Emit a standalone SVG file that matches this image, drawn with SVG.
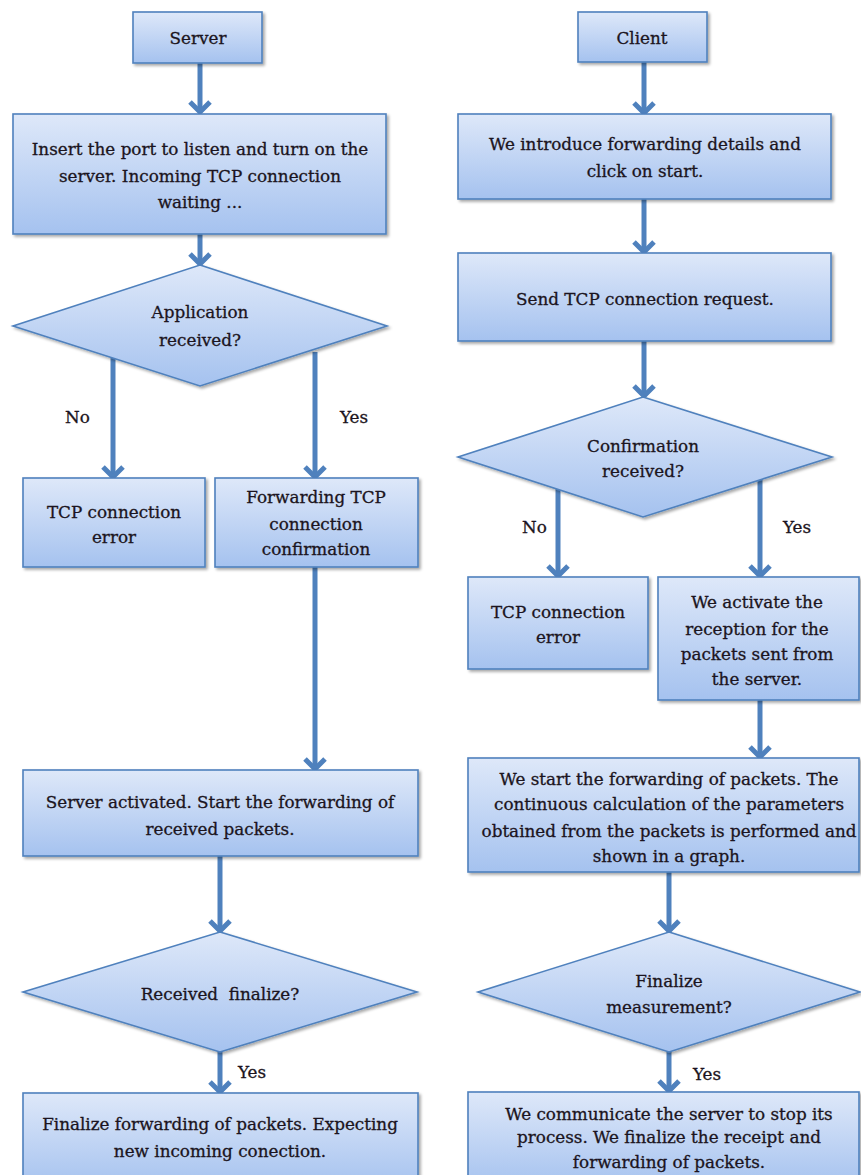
<svg xmlns="http://www.w3.org/2000/svg" width="861" height="1175" viewBox="0 0 861 1175">
  <defs>
    <linearGradient id="fillGrad" x1="0" y1="0" x2="0" y2="1">
      <stop offset="0" stop-color="#dee8f9"/>
      <stop offset="1" stop-color="#a5c2ef"/>
    </linearGradient>
    <filter id="shadow" x="-5%" y="-5%" width="112%" height="120%">
      <feGaussianBlur in="SourceAlpha" stdDeviation="1.5"/>
      <feOffset dx="1.5" dy="2" result="off"/>
      <feComponentTransfer><feFuncA type="linear" slope="0.35"/></feComponentTransfer>
      <feMerge><feMergeNode/><feMergeNode in="SourceGraphic"/></feMerge>
    </filter>
    <marker id="head" viewBox="-16 -12 20 24" refX="-3" refY="0" markerWidth="20" markerHeight="24" markerUnits="userSpaceOnUse" orient="auto">
      <path d="M-13,-10 L-3,0 L-13,10" fill="none" stroke="#4f81bd" stroke-width="5" stroke-linejoin="miter"/>
    </marker>
  </defs>
  <style>
    .shape { fill: url(#fillGrad); stroke: #4f81bd; stroke-width: 1.6; filter: url(#shadow); }
    .lbl { font-family: "DejaVu Serif", serif; font-size: 16.8px; fill: #1b1420; stroke: #1b1420; stroke-width: 0.3; text-anchor: middle; }
    .side { font-family: "DejaVu Serif", serif; font-size: 16.8px; fill: #1b1420; stroke: #1b1420; stroke-width: 0.3; }
    .flow { stroke: #4f81bd; stroke-width: 5; fill: none; marker-end: url(#head); }
  </style>

  <rect x="0" y="0" width="861" height="1175" fill="#ffffff"/>

  <!-- connectors -->
  <g id="connectors">
    <!-- server column -->
    <line class="flow" x1="200" y1="63" x2="200" y2="112"/>
    <line class="flow" x1="200" y1="234" x2="200" y2="264"/>
    <line class="flow" x1="113" y1="358" x2="113" y2="477"/>
    <line class="flow" x1="315" y1="352" x2="315" y2="477"/>
    <line class="flow" x1="315" y1="567" x2="315" y2="769"/>
    <line class="flow" x1="220" y1="856" x2="220" y2="931"/>
    <line class="flow" x1="220" y1="1052" x2="220" y2="1092"/>
    <!-- client column -->
    <line class="flow" x1="644" y1="62" x2="644" y2="113"/>
    <line class="flow" x1="644" y1="199" x2="644" y2="252"/>
    <line class="flow" x1="644" y1="341" x2="644" y2="396"/>
    <line class="flow" x1="558" y1="489" x2="558" y2="576"/>
    <line class="flow" x1="760" y1="479" x2="760" y2="576"/>
    <line class="flow" x1="760" y1="700" x2="760" y2="757"/>
    <line class="flow" x1="669" y1="872" x2="669" y2="931"/>
    <line class="flow" x1="669" y1="1052" x2="669" y2="1091"/>
    <!-- branch labels -->
    <text class="side" x="65" y="423">No</text>
    <text class="side" x="340" y="423">Yes</text>
    <text class="side" x="238" y="1078">Yes</text>
    <text class="side" x="522" y="533">No</text>
    <text class="side" x="783" y="533">Yes</text>
    <text class="side" x="693" y="1080">Yes</text>
  </g>

  <!-- server column -->
  <g id="server">
    <rect class="shape" x="133" y="12" width="129" height="51"/>
    <text class="lbl" x="198" y="44">Server</text>
  </g>
  <g id="server-listen">
    <rect class="shape" x="13" y="114" width="373" height="120"/>
    <text class="lbl" x="200" y="155">Insert the port to listen and turn on the</text>
    <text class="lbl" x="200" y="182">server. Incoming TCP connection</text>
    <text class="lbl" x="200" y="208">waiting ...</text>
  </g>
  <g id="app-received">
    <polygon class="shape" points="200,265 387,326 200,386 13,326"/>
    <text class="lbl" x="200" y="318">Application</text>
    <text class="lbl" x="200" y="346">received?</text>
  </g>
  <g id="server-error">
    <rect class="shape" x="23" y="478" width="182" height="89"/>
    <text class="lbl" x="114" y="518">TCP connection</text>
    <text class="lbl" x="114" y="543">error</text>
  </g>
  <g id="forward-confirm">
    <rect class="shape" x="215" y="478" width="203" height="89"/>
    <text class="lbl" x="316" y="503">Forwarding TCP</text>
    <text class="lbl" x="316" y="530">connection</text>
    <text class="lbl" x="316" y="555">confirmation</text>
  </g>
  <g id="server-activated">
    <rect class="shape" x="23" y="770" width="395" height="86"/>
    <text class="lbl" x="220" y="808">Server activated.  Start the forwarding of</text>
    <text class="lbl" x="220" y="835">received packets.</text>
  </g>
  <g id="received-finalize">
    <polygon class="shape" points="220,932 417,992 220,1052 23,992"/>
    <text class="lbl" x="220" y="1000" xml:space="preserve">Received  finalize?</text>
  </g>
  <g id="server-finalize">
    <rect class="shape" x="23" y="1093" width="395" height="95"/>
    <text class="lbl" x="220" y="1130">Finalize  forwarding of packets. Expecting</text>
    <text class="lbl" x="220" y="1157">new incoming  conection.</text>
  </g>

  <!-- client column -->
  <g id="client">
    <rect class="shape" x="578" y="12" width="129" height="50"/>
    <text class="lbl" x="642" y="44">Client</text>
  </g>
  <g id="client-details">
    <rect class="shape" x="458" y="114" width="373" height="85"/>
    <text class="lbl" x="645" y="150">We introduce forwarding details and</text>
    <text class="lbl" x="645" y="177">click on start.</text>
  </g>
  <g id="client-request">
    <rect class="shape" x="458" y="253" width="373" height="88"/>
    <text class="lbl" x="645" y="305">Send TCP connection request.</text>
  </g>
  <g id="confirm-received">
    <polygon class="shape" points="643,397 832,457 643,517 458,457"/>
    <text class="lbl" x="643" y="452">Confirmation</text>
    <text class="lbl" x="643" y="477">received?</text>
  </g>
  <g id="client-error">
    <rect class="shape" x="468" y="577" width="180" height="92"/>
    <text class="lbl" x="558" y="618">TCP connection</text>
    <text class="lbl" x="558" y="643">error</text>
  </g>
  <g id="client-reception">
    <rect class="shape" x="658" y="577" width="201" height="123"/>
    <text class="lbl" x="757" y="608">We activate the</text>
    <text class="lbl" x="757" y="635">reception for the</text>
    <text class="lbl" x="757" y="660">packets sent from</text>
    <text class="lbl" x="757" y="685">the server.</text>
  </g>
  <g id="client-forwarding">
    <rect class="shape" x="468" y="758" width="391" height="114"/>
    <text class="lbl" x="669" y="785">We start the forwarding of packets. The</text>
    <text class="lbl" x="669" y="810">continuous calculation of the parameters</text>
    <text class="lbl" x="669" y="837">obtained from the packets is performed and</text>
    <text class="lbl" x="669" y="862">shown in a graph.</text>
  </g>
  <g id="finalize-measurement">
    <polygon class="shape" points="669,932 860,992 669,1052 478,992"/>
    <text class="lbl" x="669" y="987">Finalize</text>
    <text class="lbl" x="669" y="1013">measurement?</text>
  </g>
  <g id="client-stop">
    <rect class="shape" x="468" y="1092" width="391" height="96"/>
    <text class="lbl" x="669" y="1120">We communicate the server to stop its</text>
    <text class="lbl" x="669" y="1143">process. We finalize the receipt and</text>
    <text class="lbl" x="669" y="1168">forwarding of packets.</text>
  </g>
</svg>
